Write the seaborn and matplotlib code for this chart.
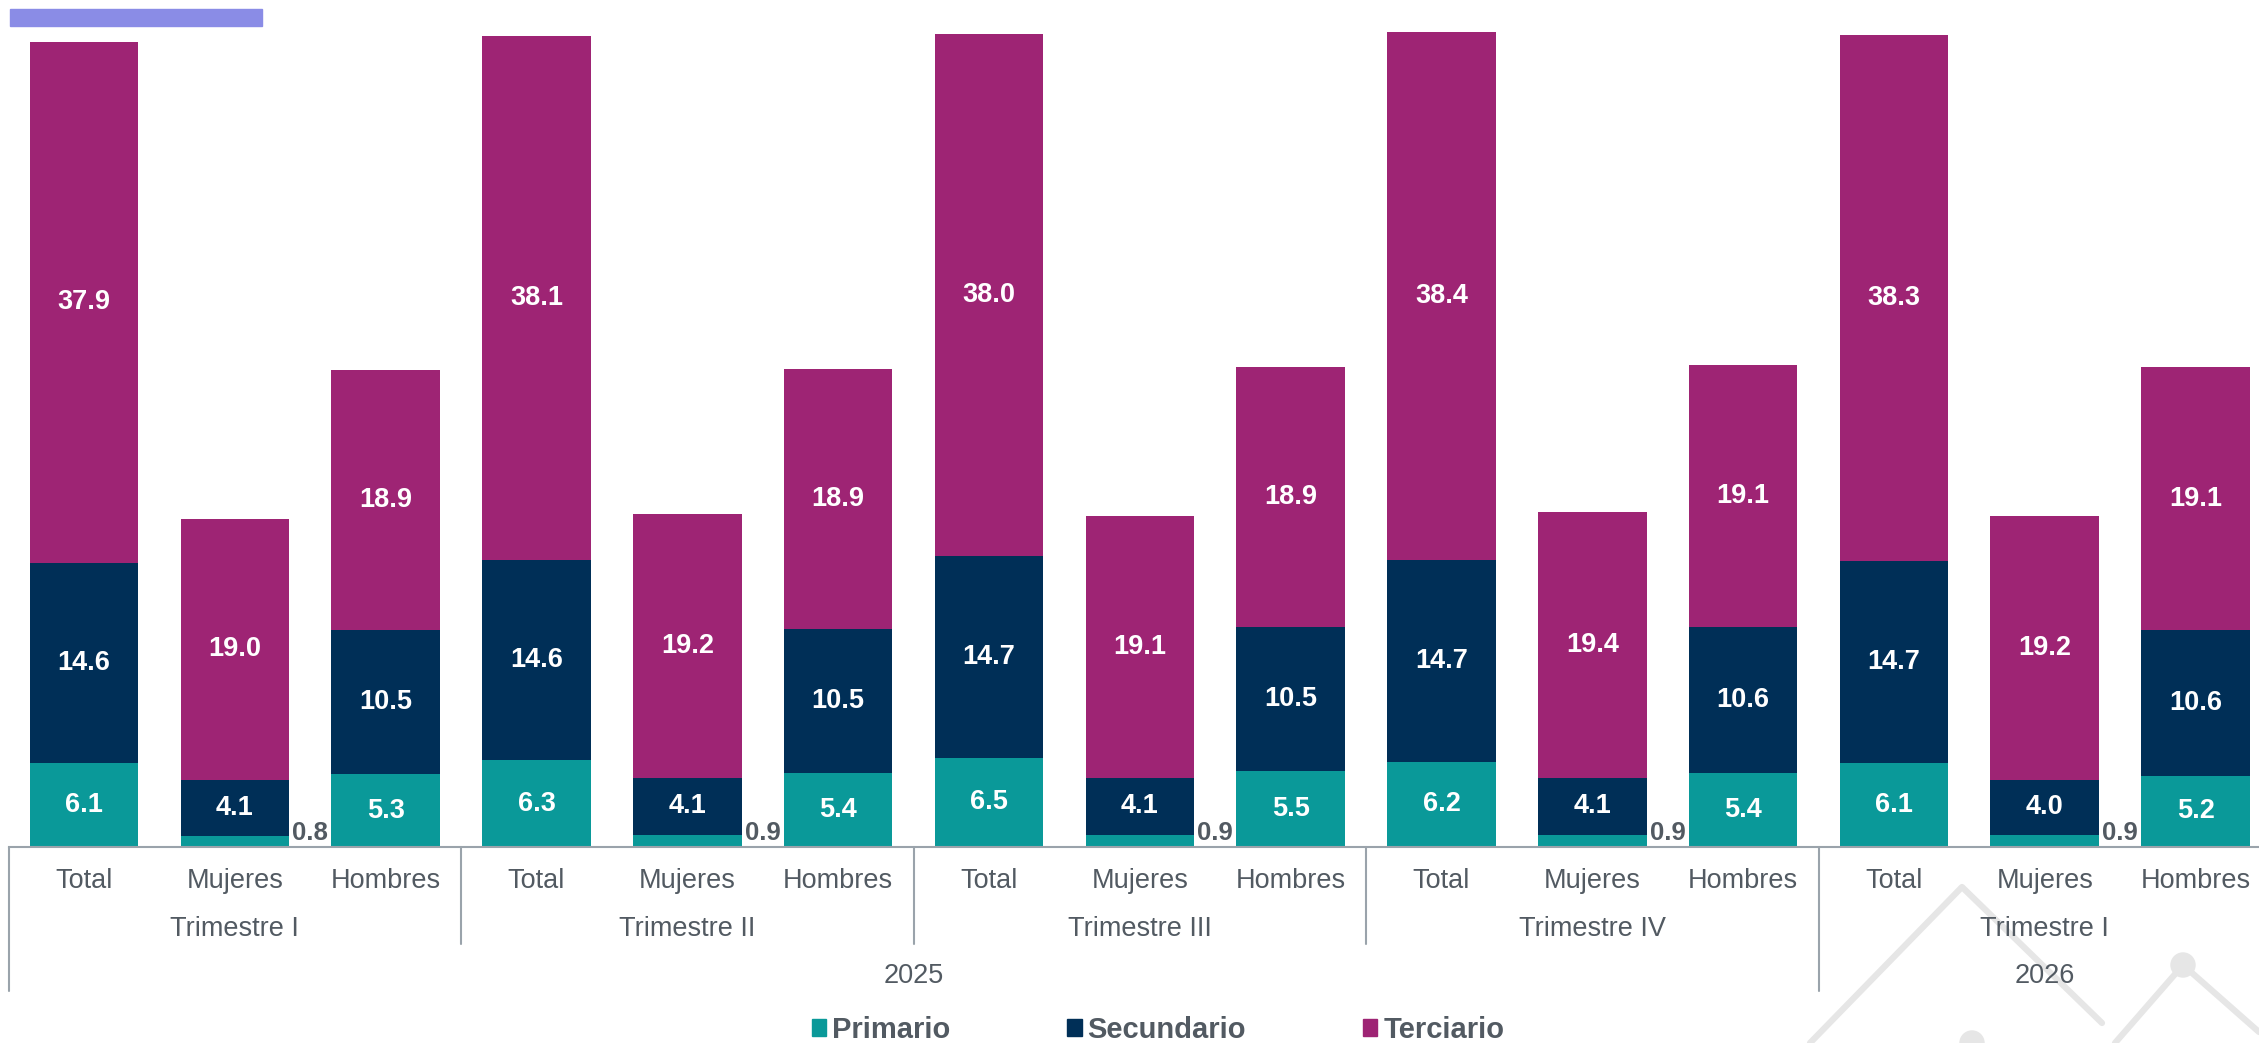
import numpy as np
import pandas as pd
import seaborn as sns
import matplotlib.pyplot as plt
from matplotlib.lines import Line2D
from matplotlib.patches import Rectangle, Ellipse

# Data
groups = ["Total", "Mujeres", "Hombres"]
quarters = ["Trimestre I", "Trimestre II", "Trimestre III", "Trimestre IV", "Trimestre I"]
years = ["2025", "2026"]
quarters_per_year = [4, 1]

primario = [6.1, 0.8, 5.3, 6.3, 0.9, 5.4, 6.5, 0.9, 5.5, 6.2, 0.9, 5.4, 6.1, 0.9, 5.2]
secundario = [14.6, 4.1, 10.5, 14.6, 4.1, 10.5, 14.7, 4.1, 10.5, 14.7, 4.1, 10.6, 14.7, 4.0, 10.6]
terciario = [37.9, 19.0, 18.9, 38.1, 19.2, 18.9, 38.0, 19.1, 18.9, 38.4, 19.4, 19.1, 38.3, 19.2, 19.1]

series = ["Primario", "Secundario", "Terciario"]
colors = {"Primario": "#0a9999", "Secundario": "#002f57", "Terciario": "#9e2474"}
text_gray = "#525a62"
line_gray = "#9aa3ab"

df = pd.DataFrame({
    "pos": np.arange(len(primario)),
    "Primario": primario,
    "Secundario": secundario,
    "Terciario": terciario,
})
df["cum_p"] = df["Primario"]
df["cum_s"] = df["Primario"] + df["Secundario"]
df["cum_t"] = df["cum_s"] + df["Terciario"]

sns.set_style("white")
plt.rcParams["font.family"] = ["Liberation Sans", "DejaVu Sans"]

W, H = 2259, 1043
fig = plt.figure(figsize=(W / 100, H / 100), dpi=100)
ax_h = 847 / H
ax = fig.add_axes([8.6 / W, 1 - ax_h, (2271 - 8.6) / W, ax_h])

# stacked bars: draw cumulative heights, tallest first
bar_w = 0.72
for col, name in [("cum_t", "Terciario"), ("cum_s", "Secundario"), ("cum_p", "Primario")]:
    sns.barplot(data=df, x="pos", y=col, color=colors[name], saturation=1,
                width=bar_w, linewidth=0, ax=ax)

ax.set_xlim(-0.5, len(primario) - 0.5)
ax.set_ylim(0, 61.64)
ax.set_xticks([])
ax.set_yticks([])
ax.set_xlabel("")
ax.set_ylabel("")
for s in ["top", "right", "left"]:
    ax.spines[s].set_visible(False)
ax.spines["bottom"].set_color(line_gray)
ax.spines["bottom"].set_linewidth(1.5)

# value labels
for i, row in df.iterrows():
    bottom = 0
    for name in series:
        v = row[name]
        if name == "Primario" and i % 3 == 1:
            ax.text(i + bar_w / 2 + 0.02, 0.15, f"{v:.1f}", ha="left", va="bottom",
                    fontsize=18.5, fontweight="bold", color=text_gray)
        else:
            ax.text(i, bottom + v / 2, f"{v:.1f}", ha="center", va="center",
                    fontsize=19.5, fontweight="bold", color="white")
        bottom += v

# multi-level category axis
tr = ax.get_xaxis_transform()
px = lambda p: -(p - 847) / 847
for i in range(len(primario)):
    ax.text(i, px(881), groups[i % 3], ha="center", va="center", fontsize=19.5,
            color=text_gray, transform=tr)
for q, name in enumerate(quarters):
    ax.text(3 * q + 1, px(929), name, ha="center", va="center", fontsize=19.5,
            color=text_gray, transform=tr)
start = 0
for y, n in zip(years, quarters_per_year):
    ax.text(start * 3 + n * 3 / 2 - 0.5, px(976), y, ha="center", va="center",
            fontsize=19.5, color=text_gray, transform=tr)
    start += n

long_sep = [-0.5, 11.5]
for b in [-0.5, 2.5, 5.5, 8.5, 11.5]:
    end = px(991) if b in long_sep else px(944)
    ax.plot([b, b], [0, end], transform=tr, clip_on=False, color=line_gray, lw=1.5)

# legend
handles = [Rectangle((0, 0), 1, 1, color=colors[s]) for s in series]
fig.legend(handles, series, loc="center", bbox_to_anchor=(1158 / W, 1 - 1030 / H),
           ncol=3, frameon=False, prop={"weight": "bold", "size": 21},
           labelcolor=text_gray, handlelength=0.5, handleheight=0.5,
           handletextpad=0.2, columnspacing=4.0)

# decorations
fig.add_artist(Rectangle((10 / W, 1 - 26 / H), 252 / W, 17 / H,
                         transform=fig.transFigure, color="#8a8ce6"))
deco = "#e6e6e6"
for xs, ys in [([1810, 1962, 2102], [1043, 887, 1023]),
               ([2115, 2183, 2259], [1043, 965, 1032])]:
    fig.add_artist(Line2D([x / W for x in xs], [1 - y / H for y in ys],
                          transform=fig.transFigure, color=deco, lw=4.5,
                          solid_capstyle="round", zorder=0))
for cx, cy in [(2183, 965), (1972, 1043)]:
    fig.add_artist(Ellipse((cx / W, 1 - cy / H), 24 / W, 24 / H,
                           transform=fig.transFigure, color=deco, zorder=0))

fig.savefig("out.png", dpi=100)
